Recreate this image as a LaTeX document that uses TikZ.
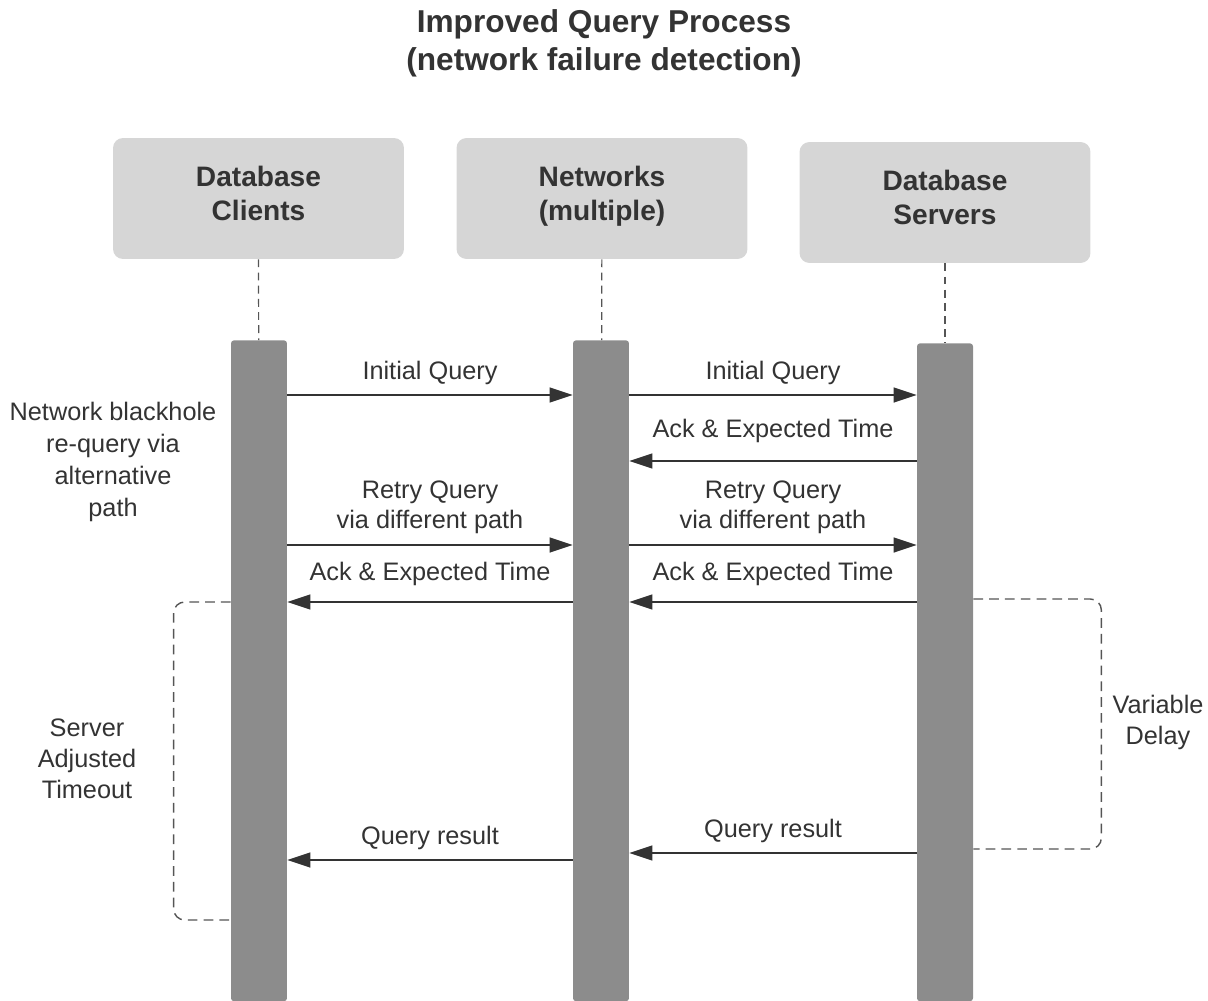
\documentclass[tikz,border=0pt]{standalone}
\usepackage{fontspec}
\setmainfont{Liberation Sans}
\usetikzlibrary{arrows.meta,positioning,calc}

\definecolor{headgray}{HTML}{D6D6D6}
\definecolor{bargray}{HTML}{8C8C8C}
\definecolor{inkgray}{HTML}{333333}
\definecolor{dashgray}{HTML}{555555}

\tikzset{
  header/.style={fill=headgray, rounded corners=0.2cm, minimum width=5.82cm, minimum height=2.42cm, align=center, text=inkgray, font=\fontsize{16}{19.5}\selectfont\bfseries},
  lifebar/.style={fill=bargray, rounded corners=0.06cm, minimum width=1.12cm, inner sep=0pt, anchor=north},
  lifeline/.style={dashgray, dash pattern=on 4.5pt off 3pt, line width=0.7pt},
  msg/.style={inkgray, line width=0.8pt, -{Triangle[length=0.46cm, width=0.3cm]}},
  msglbl/.style={text=inkgray, align=center, font=\fontsize{14.4}{17}\selectfont},
  bracket/.style={dashgray, dash pattern=on 5.5pt off 3.5pt, line width=0.8pt, rounded corners=0.22cm},
  note/.style={text=inkgray, align=center, font=\fontsize{14.4}{17.6}\selectfont}
}

\begin{document}
\begin{tikzpicture}[x=0.02cm, y=-0.02cm]
  \useasboundingbox (0,0) rectangle (1208,1001);

  % title
  \node[text=inkgray, align=center, font=\fontsize{18}{21.5}\selectfont\bfseries] (title) at (604,43.5) {Improved Query Process\\(network failure detection)};

  % participants
  \node[header] (clihead) at (258.5,198.5) {Database\\Clients\strut};
  \node[header] (nethead) at (602,198.5) {Networks\\(multiple)\strut};
  \node[header] (srvhead) at (945,202.5) {Database\\Servers\strut};

  \node[lifebar, minimum height=13.22cm] (clibar) at (259,340) {};
  \node[lifebar, minimum height=13.22cm] (netbar) at (601,340) {};
  \node[lifebar, minimum height=13.16cm] (srvbar) at (945,343) {};

  \draw[lifeline] (clihead) -- (clibar);
  \draw[lifeline] (nethead) -- (netbar);
  \draw[lifeline] (srvhead) -- (srvbar);

  % message rows
  \coordinate (m1) at (0,395);
  \coordinate (m2) at (0,461);
  \coordinate (m3) at (0,545);
  \coordinate (m4) at (0,602);
  \coordinate (m5) at (0,860);
  \coordinate (m6) at (0,853);

  \draw[msg] (clibar.east |- m1) -- node[msglbl, above=2.3pt] (q1) {Initial Query} (netbar.west |- m1);
  \draw[msg] (netbar.east |- m1) -- node[msglbl, above=2.3pt] (q2) {Initial Query} (srvbar.west |- m1);
  \draw[msg] (srvbar.west |- m2) -- node[msglbl, above=0.24cm] (a1) {Ack \& Expected Time} (netbar.east |- m2);
  \draw[msg] (clibar.east |- m3) -- node[msglbl, above=2.5pt] (r1) {Retry Query\\via different path} (netbar.west |- m3);
  \draw[msg] (netbar.east |- m3) -- node[msglbl, above=2.5pt] (r2) {Retry Query\\via different path} (srvbar.west |- m3);
  \draw[msg] (netbar.west |- m4) -- node[msglbl, above=0.2cm] (a2) {Ack \& Expected Time} (clibar.east |- m4);
  \draw[msg] (srvbar.west |- m4) -- node[msglbl, above=0.2cm] (a3) {Ack \& Expected Time} (netbar.east |- m4);
  \draw[msg] (netbar.west |- m5) -- node[msglbl, above=2.3pt] (res1) {Query result} (clibar.east |- m5);
  \draw[msg] (srvbar.west |- m6) -- node[msglbl, above=2.3pt] (res2) {Query result} (netbar.east |- m6);

  % delay brackets
  \coordinate (d1) at (0,920);
  \coordinate (d2) at (0,599);
  \coordinate (d3) at (0,849);
  \draw[bracket] (clibar.west |- m4) -- ++(-57,0) -- ++(0,318) -- (clibar.west |- d1);
  \draw[bracket] (srvbar.east |- d2) -- ++(128,0) -- ++(0,250) -- (srvbar.east |- d3);

  % notes
  \node[note, font=\fontsize{14.4}{18.2}\selectfont] (blackhole) at (113,461.5) {Network blackhole\\re-query via\\alternative\\path};
  \node[note] (timeout) at (87,759) {Server\\Adjusted\\Timeout};
  \node[note] (delay) at (1158,722) {Variable\\Delay};
\end{tikzpicture}
\end{document}
